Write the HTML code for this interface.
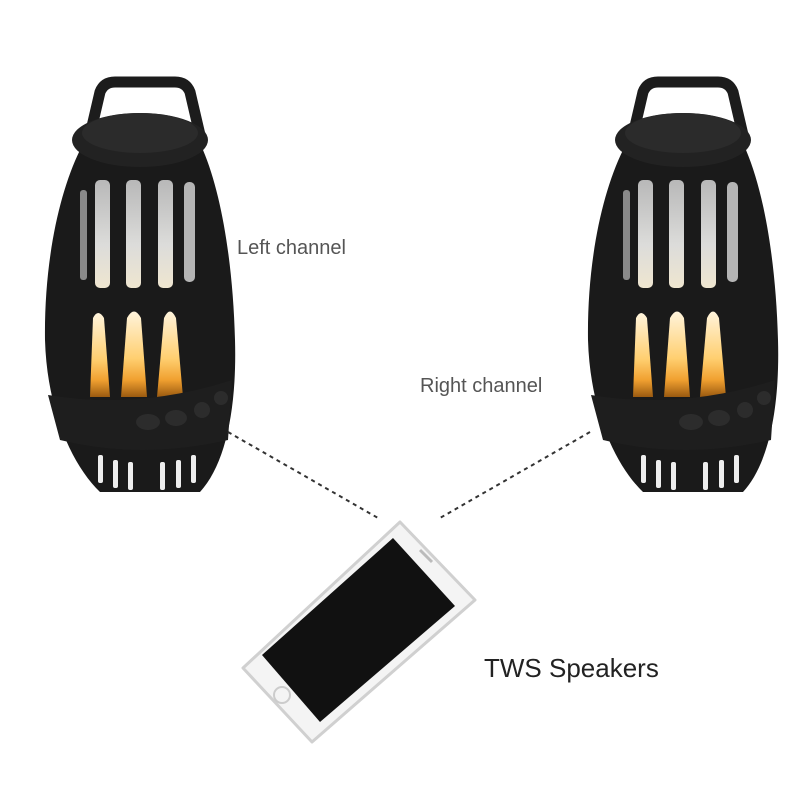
<!DOCTYPE html>
<html><head><meta charset="utf-8"><style>
html,body{margin:0;padding:0;background:#fff;width:800px;height:800px;overflow:hidden}
</style></head><body>
<svg width="800" height="800" viewBox="0 0 800 800" xmlns="http://www.w3.org/2000/svg">
<defs>
<linearGradient id="fl" x1="0" y1="0" x2="0" y2="1">
<stop offset="0" stop-color="#fff4dc"/><stop offset="0.55" stop-color="#ffcf70"/><stop offset="0.8" stop-color="#f0a030"/><stop offset="1" stop-color="#9a5a10"/>
</linearGradient>
<linearGradient id="sl" x1="0" y1="0" x2="0" y2="1">
<stop offset="0" stop-color="#b8b8b8"/><stop offset="0.6" stop-color="#dcdcda"/><stop offset="1" stop-color="#efe6d0"/>
</linearGradient>
<g id="spk">
<path d="M90,135 L100,92 Q104,82 115,82 L175,82 Q186,82 190,92 L200,135" fill="none" stroke="#1c1c1c" stroke-width="11"/>
<path d="M80,150 C58,195 44,265 45,340 C47,410 72,465 100,492 L200,492 C225,465 237,410 235,340 C233,265 222,195 203,150 Z" fill="#1a1a1a"/>
<ellipse cx="140" cy="140" rx="68" ry="27" fill="#222"/>
<ellipse cx="140" cy="133" rx="58" ry="20" fill="#2b2b2b"/>
<rect x="95" y="180" width="15" height="108" rx="5" fill="url(#sl)"/>
<rect x="126" y="180" width="15" height="108" rx="5" fill="url(#sl)"/>
<rect x="158" y="180" width="15" height="108" rx="5" fill="url(#sl)"/>
<rect x="184" y="182" width="11" height="100" rx="5" fill="#b5b5b5"/>
<rect x="80" y="190" width="7" height="90" rx="3" fill="#8a8a8a"/>
<path d="M90,397 L93,318 Q98,308 104,318 L110,397 Z" fill="url(#fl)"/>
<path d="M121,397 L127,318 Q134,305 141,318 L147,397 Z" fill="url(#fl)"/>
<path d="M157,397 L164,318 Q170,305 176,318 L183,397 Z" fill="url(#fl)"/>
<path d="M48,395 Q140,410 232,380 L228,440 Q140,460 60,440 Z" fill="#1e1e1e"/>
<ellipse cx="148" cy="422" rx="12" ry="8" fill="#2c2c2c"/>
<ellipse cx="176" cy="418" rx="11" ry="8" fill="#2c2c2c"/>
<circle cx="202" cy="410" r="8" fill="#2c2c2c"/>
<circle cx="221" cy="398" r="7" fill="#2c2c2c"/>
<g fill="#eee">
<rect x="98" y="455" width="5" height="28" rx="2"/><rect x="113" y="460" width="5" height="28" rx="2"/>
<rect x="128" y="462" width="5" height="28" rx="2"/><rect x="160" y="462" width="5" height="28" rx="2"/>
<rect x="176" y="460" width="5" height="28" rx="2"/><rect x="191" y="455" width="5" height="28" rx="2"/>
</g>
</g>
</defs>
<use href="#spk"/>
<use href="#spk" transform="translate(543,0)"/>
<line x1="228" y1="432" x2="378" y2="518" stroke="#333" stroke-width="2" stroke-dasharray="4,4"/>
<line x1="590" y1="432" x2="440" y2="518" stroke="#333" stroke-width="2" stroke-dasharray="4,4"/>
<polygon points="243,668 400,522 475,600 312,742" fill="#f4f4f4" stroke="#d0d0d0" stroke-width="3" stroke-linejoin="round"/>
<polygon points="262,655 393,538 455,606 320,722" fill="#111"/>
<circle cx="282" cy="695" r="8" fill="none" stroke="#ccc" stroke-width="2"/>
<line x1="420" y1="550" x2="432" y2="562" stroke="#bbb" stroke-width="3"/>
<g font-family="Liberation Sans, sans-serif">
<text x="237" y="254" font-size="20" fill="#555">Left channel</text>
<text x="420" y="392" font-size="20" fill="#555">Right channel</text>
<text x="484" y="677" font-size="26" fill="#222">TWS Speakers</text>
</g>
</svg>
</body></html>
